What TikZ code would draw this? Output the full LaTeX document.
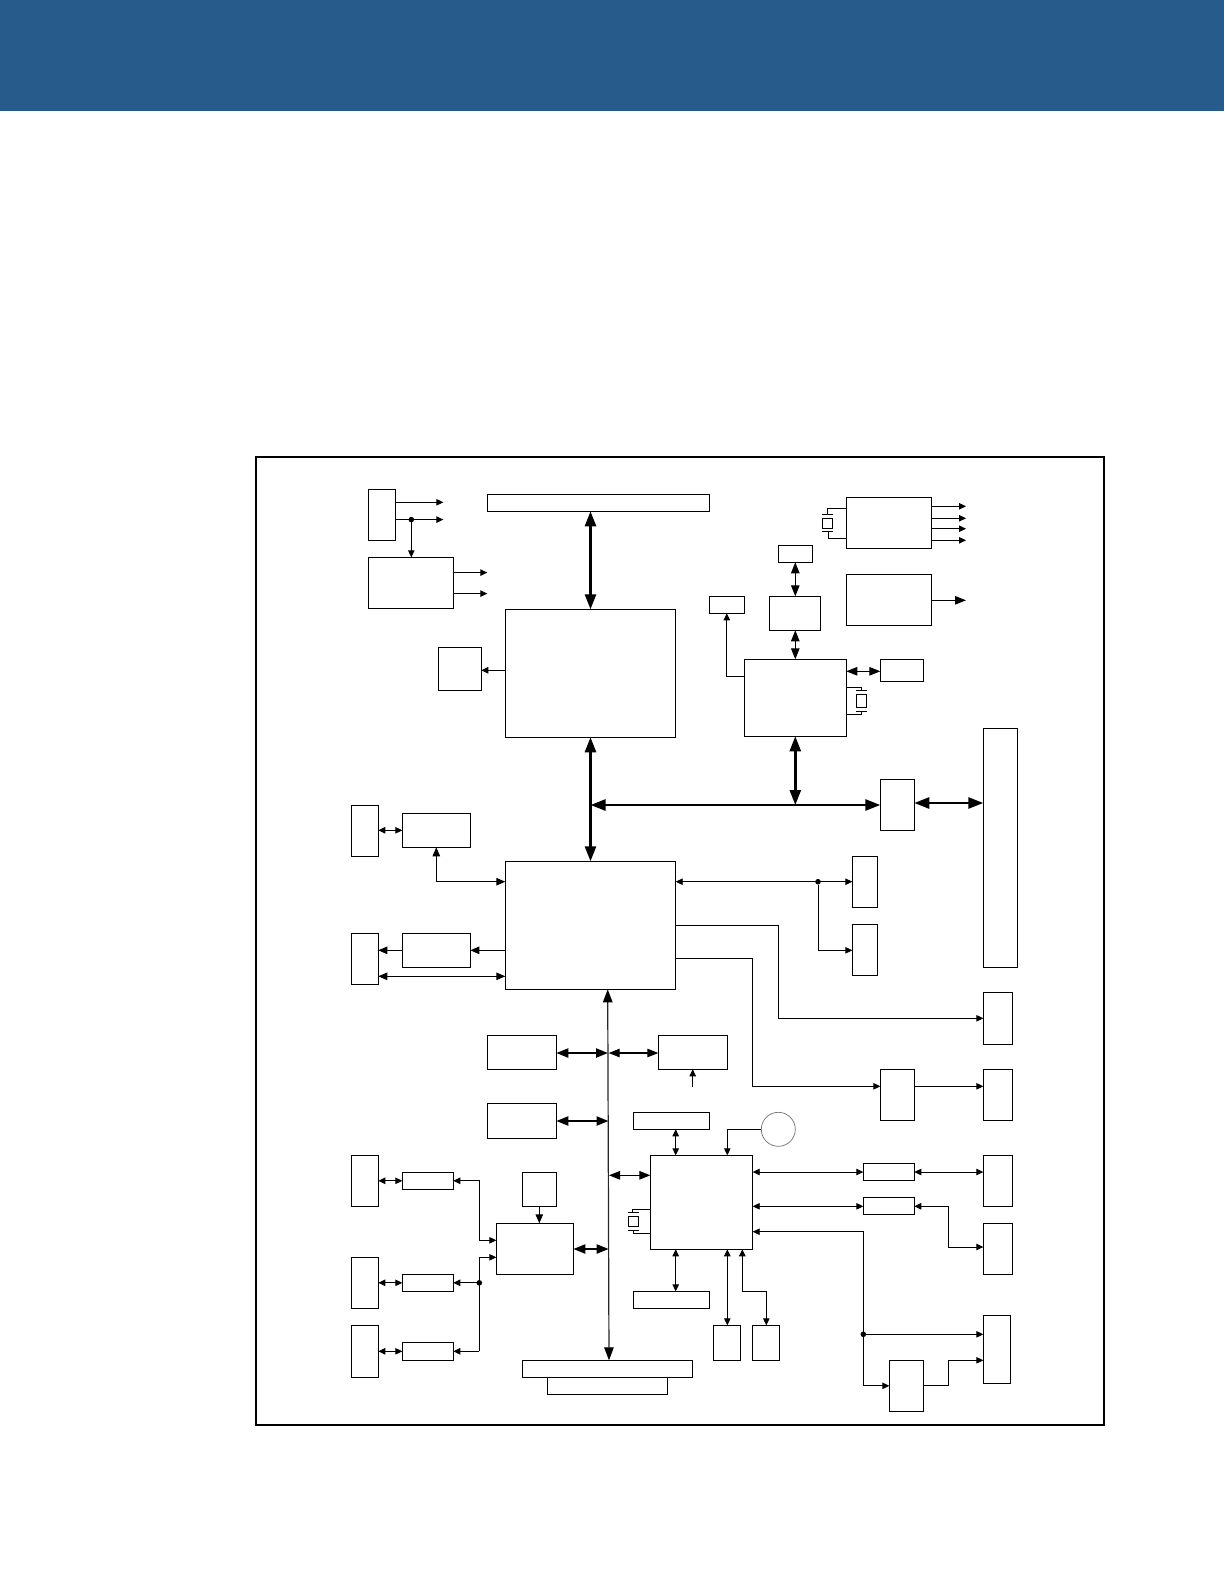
\documentclass[tikz,border=0pt]{standalone}
\usetikzlibrary{arrows.meta}
\definecolor{banner}{HTML}{275B8C}
\tikzset{
  x=1pt,y=-1pt,
  bx/.style={draw=black,fill=white,line width=0.9pt,inner sep=0pt,outer sep=0pt},
  wire/.style={draw=black,line width=0.9pt},
  sm/.style={wire,-{Triangle[length=7pt,width=6.5pt]}},
  smd/.style={wire,{Triangle[length=7pt,width=6.5pt]}-{Triangle[length=7pt,width=6.5pt]}},
  msd/.style={wire,{Triangle[length=9pt,width=7.5pt]}-{Triangle[length=9pt,width=7.5pt]}},
  mso/.style={wire,-{Triangle[length=9pt,width=7.5pt]}},
  md/.style={wire,line width=1.1pt,{Triangle[length=11pt,width=8.5pt]}-{Triangle[length=11pt,width=8.5pt]}},
  mdo/.style={wire,line width=1.1pt,-{Triangle[length=11pt,width=8.5pt]}},
  thk/.style={draw=black,line width=2.6pt,{Triangle[length=15pt,width=11pt]}-{Triangle[length=15pt,width=11pt]}},
  thkm/.style={draw=black,line width=2.2pt,{Triangle[length=12pt,width=9pt]}-{Triangle[length=12pt,width=9pt]}},
  busl/.style={draw=black!85,line width=1.2pt,{Triangle[length=13pt,width=9.5pt,color=black]}-{Triangle[length=13pt,width=9.5pt,color=black]}},
  jn/.style={circle,fill=black,draw=none,minimum size=5.6pt,inner sep=0pt,outer sep=0pt},
  plate/.style={draw=black,line width=0.8pt},
}
\newcommand\bx[5]{\node[bx,minimum width={(#4-#2)*1pt},minimum height={(#5-#3)*1pt},at={({(#2+#4)/2},{(#3+#5)/2})}] (#1) {};}
\newcommand\jnc[3]{\node[jn,at={(#2,#3)}] (#1) {};}
\begin{document}
\begin{tikzpicture}
\useasboundingbox (0,0) rectangle (1224,1584);
\fill[white] (0,0) rectangle (1224,1584);
\fill[banner] (0,0) rectangle (1224,111);
\node[draw=black,line width=2pt,inner sep=0pt,outer sep=0pt,minimum width=848.3pt,minimum height=968.2pt,at={(680.2,940.6)}] (frame) {};

% boxes
\bx{pw}{368.3}{489.3}{395.7}{540.3}
\bx{reg}{368.3}{557.3}{453.3}{608.3}
\bx{topbar}{487.3}{494.3}{709.3}{511.3}
\bx{nb}{505.3}{609.3}{675.7}{737.3}
\bx{fan}{438.3}{647.3}{481.3}{690.3}
\bx{clk}{846.3}{497.3}{931.3}{548.3}
\bx{osc}{846.3}{574.3}{931.3}{625.3}
\bx{ts}{778.3}{545.3}{812.3}{562.3}
\bx{mid}{769.3}{596.3}{820.3}{630.3}
\bx{sl}{709.3}{596.3}{744.3}{613.3}
\bx{chip}{744.3}{659.3}{846.3}{736.3}
\bx{sr}{880.3}{659.3}{923.3}{681.3}
\bx{pci}{983.3}{728.3}{1017.3}{967.3}
\bx{sw}{880.3}{779.3}{914.3}{830.3}
\bx{e1}{852.3}{856.3}{877.3}{907.3}
\bx{e2}{852.3}{924.3}{877.3}{975.3}
\bx{r1}{983.3}{992.3}{1012.3}{1044.3}
\bx{lv}{880.3}{1069.3}{914.3}{1120.3}
\bx{r2}{983.3}{1069.3}{1012.3}{1120.3}
\bx{sb}{505.3}{861.3}{675.7}{989.3}
\bx{a1}{351.3}{805.3}{378.3}{856.3}
\bx{a2}{402.3}{813.3}{470.3}{847.3}
\bx{c1}{351.3}{933.3}{378.3}{984.3}
\bx{c2}{402.3}{933.3}{470.3}{967.3}
\bx{e}{487.3}{1035.3}{556.3}{1069.3}
\bx{ep}{658.3}{1035.3}{727.3}{1069.3}
\bx{f}{487.3}{1103.3}{556.3}{1138.3}
\bx{g1}{351.3}{1155.3}{378.3}{1206.3}
\bx{g2}{402.3}{1172.3}{453.3}{1189.3}
\bx{l1}{351.3}{1257.3}{378.3}{1308.3}
\bx{l2}{402.3}{1274.3}{453.3}{1291.3}
\bx{n1}{351.3}{1325.3}{378.3}{1377.3}
\bx{n2}{402.3}{1342.3}{453.3}{1360.3}
\bx{k}{522.3}{1172.3}{556.3}{1206.3}
\bx{j}{496.3}{1223.3}{573.3}{1274.3}
\bx{pcib}{522.3}{1360.3}{692.7}{1377.3}
\bx{pcic}{547.3}{1377.3}{667.3}{1394.3}
\bx{p}{633.3}{1112.3}{709.3}{1129.3}
\bx{q}{650.3}{1155.3}{752.7}{1249.3}
\bx{rr}{633.3}{1291.3}{709.3}{1308.3}
\bx{s}{863.3}{1163.3}{914.3}{1180.3}
\bx{t}{863.3}{1197.3}{914.3}{1214.3}
\bx{u}{983.3}{1155.3}{1012.3}{1206.3}
\bx{v}{983.3}{1223.3}{1012.3}{1274.3}
\bx{w}{983.3}{1315.3}{1010.3}{1383.3}
\bx{xx}{889.3}{1360.3}{923.3}{1411.3}
\bx{y}{713.3}{1325.3}{740.3}{1360.3}
\bx{z}{752.3}{1325.3}{779.3}{1360.3}
\node[circle,draw=black!55,line width=0.7pt,fill=white,minimum size=34pt,inner sep=0pt,outer sep=0pt,at={(778.3,1129.3)}] (batt) {};

% free ends
\coordinate (o1) at (443.3,502.3);
\coordinate (o2) at (443.3,519.6);
\coordinate (o3) at (487.3,572.6);
\coordinate (o4) at (487.3,593.6);
\coordinate (o5) at (966,506.3);
\coordinate (o6) at (966,518.3);
\coordinate (o7) at (966,528.7);
\coordinate (o8) at (966,540.3);
\coordinate (o9) at (966,600.3);
\coordinate (i1) at (692.7,1086.7);

% junctions
\jnc{d1}{411.3}{519.6}
\jnc{d2}{818}{881.7}
\jnc{d3}{479.3}{1282.8}
\jnc{d4}{863.3}{1334.3}
\coordinate (busT) at (607.7,989.3);
\coordinate (busB) at (609,1360.3);
\coordinate (nbus) at (590.5,805);

% upper-left
\draw[sm] (pw.east |- o1) -- (o1);
\draw[sm] (pw.east |- o2) -- (o2);
\draw[sm] (d1) -- (reg.north -| d1);
\draw[sm] (reg.east |- o3) -- (o3);
\draw[sm] (reg.east |- o4) -- (o4);
\draw[thk] (topbar.south -| nb.north) -- (nb.north);
\draw[sm] (nb.west |- 0,670.3) -- (fan.east |- 0,670.3);
\draw[thk] (nb.south) -- (sb.north);

% upper-right
\draw[sm] (clk.east |- o5) -- (o5);
\draw[sm] (clk.east |- o6) -- (o6);
\draw[sm] (clk.east |- o7) -- (o7);
\draw[sm] (clk.east |- o8) -- (o8);
\draw[mdo] (osc.east |- o9) -- (o9);
\draw[md] (ts.south) -- (ts.south |- mid.north);
\draw[md] (chip.north |- mid.south) -- (chip.north);
\draw[sm] (chip.west |- 0,676.3) -| (sl.south);
\draw[md] (chip.east |- 0,671.3) -- (sr.west |- 0,671.3);
\draw[thk] (nbus) -- (sw.west |- nbus);
\draw[thk] (chip.south) -- (chip.south |- nbus);
\draw[thk] (sw.east |- 0,803) -- (pci.west |- 0,803);

% crystal upper
\draw[wire] (clk.west |- 0,508.3) -- (827.3,508.3) -- (827.3,514.3);
\draw[wire] (clk.west |- 0,538.3) -- (828.3,538.3) -- (828.3,531);
\draw[plate] (822,514.3) -- (833,514.3);
\draw[plate] (822,531) -- (833,531);
\draw[wire] (822.3,518.3) rectangle (832.7,528.7);
% crystal chip
\draw[wire] (chip.east |- 0,687.3) -- (861.7,687.3) -- (861.7,690);
\draw[wire] (chip.east |- 0,714.3) -- (861.7,714.3) -- (861.7,711.3);
\draw[plate] (856,690) -- (867,690);
\draw[plate] (856,711.3) -- (867,711.3);
\draw[wire] (856.3,694.3) rectangle (866.7,707.3);

% right of south bridge
\draw[smd] (sb.east |- d2) -- (e1.west |- d2);
\draw[sm] (d2) |- (e2.west |- 0,950.3);
\draw[sm] (sb.east |- 0,925.3) -| (778.3,1018.3) -- (r1.west |- 0,1018.3);
\draw[sm] (sb.east |- 0,958.3) -| (752.7,1086.3) -- (lv.west |- 0,1086.3);
\draw[sm] (lv.east |- 0,1086.3) -- (r2.west |- 0,1086.3);
\draw[sm] (i1) -- (ep.south -| i1);

% left of south bridge
\draw[smd] (a1.east |- a2.west) -- (a2.west);
\draw[msd] (a2.south) |- (sb.west |- d2);
\draw[mso] (sb.west |- c2.east) -- (c2.east);
\draw[mso] (c2.west) -- (c1.east |- c2.west);
\draw[msd] (c1.east |- 0,976.3) -- (sb.west |- 0,976.3);

% main bus
\draw[busl] (busT) -- (busB);
\draw[thkm] (e.east |- 0,1053) -- (608,1053);
\draw[md] (608.7,1053) -- (ep.west |- 0,1053);
\draw[thkm] (f.east |- 0,1121) -- (608.5,1121);
\draw[md] (609,1175.3) -- (q.west |- 0,1175.3);
\draw[thkm] (j.east |- 0,1249) -- (608.7,1249);

% lower left
\draw[smd] (g1.east |- g2.west) -- (g2.west);
\draw[smd] (l1.east |- l2.west) -- (l2.west);
\draw[smd] (n1.east |- n2.west) -- (n2.west);
\draw[smd] (g2.east) -| (479.3,1240.3) -- (j.west |- 0,1240.3);
\draw[sm] (d3) -- (l2.east |- d3);
\draw[sm] (479.3,1351.3) -- (n2.east |- 0,1351.3);
\draw[sm] (479.3,1351.3) -- (479.3,1257.3) -- (j.west |- 0,1257.3);
\draw[mso] (k.south) -- (k.south |- j.north);

% Q neighbours
\draw[smd] (p.south -| 675.7,0) -- (q.north -| 675.7,0);
\draw[smd] (q.south -| 675.7,0) -- (rr.north -| 675.7,0);
\draw[wire] (q.west |- 0,1209.3) -- (632.3,1209.3) -- (632.3,1212.7);
\draw[wire] (q.west |- 0,1233.3) -- (633.7,1233.3) -- (633.7,1230);
\draw[plate] (628.3,1212.7) -- (639,1212.7);
\draw[plate] (628.3,1230) -- (639,1230);
\draw[wire] (628.7,1216.7) rectangle (638.7,1226.7);
\draw[sm] (batt.west) -- (727.3,1129.3) -- (q.north -| 727.3,0);
\draw[smd] (q.east |- 0,1172) -- (s.west |- 0,1172);
\draw[smd] (q.east |- 0,1206.3) -- (t.west |- 0,1206.3);
\draw[smd] (s.east |- 0,1172) -- (u.west |- 0,1172);
\draw[smd] (t.east |- 0,1206.3) -- (948.7,1206.3) -- (948.7,1247) -- (v.west |- 0,1247);
\draw[smd] (q.south -| 727.3,0) -- (y.north -| 727.3,0);
\draw[smd] (q.south -| 742.3,0) -- (742.3,1291.3) -- (766.3,1291.3) -- (z.north -| 766.3,0);
\draw[sm] (d4) |- (q.east |- 0,1231.7);
\draw[sm] (d4) -- (w.west |- d4);
\draw[sm] (d4) |- (xx.west);
\draw[sm] (xx.east) -| (948.7,1360.3) -- (w.west |- 0,1360.3);
\end{tikzpicture}
\end{document}
